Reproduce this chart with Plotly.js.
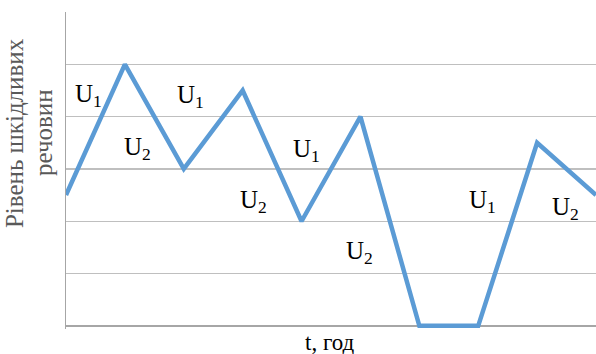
<!DOCTYPE html>
<html>
<head>
<meta charset="utf-8">
<script src="https://cdn.plot.ly/plotly-3.0.1.min.js"></script>
<style>html,body{margin:0;padding:0;background:#fff;}#chart{width:596px;height:354px;}</style>
</head>
<body>
<div id="chart"></div>
<script>
// time points and pollutant level
const timePoints = [0, 1, 2, 3, 4, 5, 6, 7, 8, 9];
const levelValues = [2.5, 5, 3, 4.5, 2, 4, 0, 0, 3.5, 2.5];
// segment labels (text and their data positions)
const segLabels = ["U<sub>1</sub>", "U<sub>2</sub>", "U<sub>1</sub>", "U<sub>2</sub>", "U<sub>1</sub>", "U<sub>2</sub>", "U<sub>1</sub>", "U<sub>2</sub>"];
const segLabelX = [0.39, 1.22, 2.12, 3.19, 4.09, 4.99, 7.08, 8.49];
const segLabelY = [4.40, 3.40, 4.38, 2.37, 3.36, 1.41, 2.37, 2.25];
const yTitleLines = ["Рівень шкідливих", "речовин"];
const xTitle = "t, год";

const serif = 'Liberation Serif';

const annotations = segLabels.map((t, i) => ({
  x: segLabelX[i], y: segLabelY[i], xref: 'x', yref: 'y',
  text: t, showarrow: false, xanchor: 'center', yanchor: 'middle',
  font: {family: serif, size: 25, color: '#000'}
}));
// y title lines: x shift from plot left edge, vertical centre in paper units
const yTitleShift = [-52, -23];
yTitleLines.forEach((t, i) => annotations.push({
  xref: 'paper', yref: 'paper', x: 0, y: 0.618, xanchor: 'center', yanchor: 'middle',
  xshift: yTitleShift[i], text: t, textangle: -90, showarrow: false,
  font: {family: serif, size: 25, color: '#595959'}
}));
annotations.push({
  xref: 'paper', yref: 'paper', x: 0.498, y: 0, xanchor: 'center', yanchor: 'middle',
  yshift: -13, text: xTitle, showarrow: false,
  font: {family: serif, size: 23, color: '#000'}
});

Plotly.newPlot('chart', [{
  x: timePoints, y: levelValues, type: 'scatter', mode: 'lines',
  line: {color: '#5B9BD5', width: 4.5}, hoverinfo: 'skip'
}], {
  width: 596, height: 354,
  margin: {l: 66, r: 0, t: 12, b: 25},
  paper_bgcolor: '#fff', plot_bgcolor: '#fff',
  showlegend: false,
  font: {family: serif},
  xaxis: {range: [0, 9], showgrid: false, zeroline: false, showticklabels: false, ticks: '',
          showline: false},
  yaxis: {range: [-0.06, 6], dtick: 1, tick0: 0, showgrid: true, gridcolor: '#BFBFBF', gridwidth: 1.3,
          zeroline: true, zerolinecolor: '#A6A6A6', zerolinewidth: 1.5,
          showticklabels: false, ticks: '', showline: true, linecolor: '#A6A6A6', linewidth: 1.5},
  annotations: annotations
}, {displayModeBar: false, staticPlot: true});
</script>
</body>
</html>
